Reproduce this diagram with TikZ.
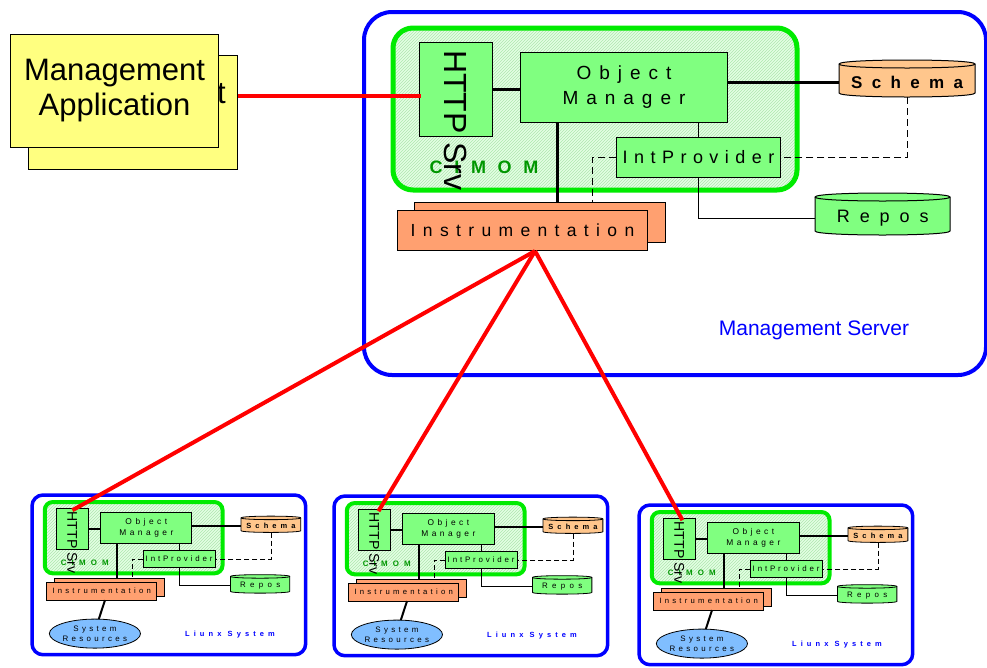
\documentclass[tikz,border=0pt]{standalone}
\usepackage{fontspec}
\setmainfont{Liberation Sans}
\newfontfamily\lsA[LetterSpace=42]{Liberation Sans}
\newfontfamily\lsB[LetterSpace=55]{Liberation Sans}
\newfontfamily\lsC[LetterSpace=65]{Liberation Sans}
\newfontfamily\lsD[LetterSpace=36]{Liberation Sans}
\usetikzlibrary{patterns,calc,shapes.geometric}

\definecolor{appyellow}{RGB}{255,255,128}
\definecolor{boxgreen}{RGB}{128,255,128}
\definecolor{schemaorange}{RGB}{255,198,140}
\definecolor{instrorange}{RGB}{255,160,112}
\definecolor{resblue}{RGB}{128,190,255}
\definecolor{cimomgreen}{RGB}{0,235,0}
\definecolor{cimomtext}{RGB}{0,150,0}
\definecolor{hatchbg}{RGB}{228,255,228}
\definecolor{hatchline}{RGB}{175,230,175}

\tikzset{
  thinline/.style={line width=1pt},
  thickline/.style={line width=3pt},
  blueline/.style={draw=blue, line width=4pt, rounded corners=28pt},
  greenline/.style={draw=cimomgreen, line width=5pt, rounded corners=20pt},
  dashline/.style={thinline, dash pattern=on 7pt off 4pt},
  redline/.style={draw=red, line width=4pt},
  gbox/.style={draw=black, thinline, fill=boxgreen, anchor=north west, inner sep=0pt},
  obox/.style={draw=black, thinline, fill=instrorange, anchor=north west, inner sep=0pt},
  appbox/.style={draw=black, line width=1pt, fill=appyellow, anchor=north west, inner sep=0pt, align=center, font=\fontsize{31}{35}\selectfont},
  mslabel/.style={text=blue, font=\fontsize{21}{24}\selectfont},
  lslabel/.style={text=blue, font=\lsB\bfseries\fontsize{17}{20}\selectfont},
  smallsys/.style={scale=0.44, transform shape,
    thinline/.style={line width=0.8pt},
    thickline/.style={line width=2pt},
    blueline/.style={draw=blue, line width=3.5pt, rounded corners=11pt},
    greenline/.style={draw=cimomgreen, line width=4pt, rounded corners=8pt},
    dashline/.style={thinline, dash pattern=on 5pt off 3pt}}
}

% cylinder: x1 y1 x2 y2 e colour name text
\newcommand{\cyl}[8]{%
  \filldraw[thinline, fill=#6] (#1,{#2+#5}) -- (#1,{#4-#5})
    .. controls (#1,{#4+#5/3}) and (#3,{#4+#5/3}) .. (#3,{#4-#5})
    -- (#3,{#2+#5})
    .. controls (#3,{#2-#5/3}) and (#1,{#2-#5/3}) .. (#1,{#2+#5}) -- cycle;
  \draw[thinline] (#1,{#2+#5}) .. controls (#1,{#2+#5*7/3}) and (#3,{#2+#5*7/3}) .. (#3,{#2+#5});
  \node[inner sep=0pt, minimum width={(#3-#1)*1pt}, minimum height={(#4-#2-2*#5)*1pt}, anchor=north west] (#7) at (#1,{#2+2*#5}) {#8};
}

% server contents in local coordinates; #1 prefix, #2 label, #3 label style
\newcommand{\serverparts}[3]{%
  \draw[blueline] (0,0) rectangle (622,363);
  \draw[greenline, preaction={fill=hatchbg}, pattern=north east lines, pattern color=hatchline] (29,16) rectangle (433,178);
  \node[text=cimomtext, font=\lsC\bfseries\fontsize{18}{20}\selectfont] (#1cimom) at (120,155) {CIMOM};
  \node[obox, minimum width=251pt, minimum height=40pt] (#1instrb) at (50,190) {};
  \node[obox, minimum width=250pt, minimum height=40pt, font=\lsA\fontsize{17.5}{20}\selectfont] (#1instr) at (33,198) {Instrumentation};
  \node[gbox, minimum width=73pt, minimum height=94pt] (#1http) at (55,30) {};
  \node[gbox, minimum width=207pt, minimum height=70pt, align=center, font=\lsA\fontsize{19}{25}\selectfont] (#1om) at (156,40) {Object\\Manager};
  \node[gbox, minimum width=164pt, minimum height=40pt, font=\lsD\fontsize{18}{22}\selectfont] (#1ip) at (252,125) {IntProvider};
  \cyl{475}{48}{611}{85}{4}{schemaorange}{#1schema}{\lsB\bfseries\fontsize{17}{20}\selectfont Schema}
  \cyl{451}{181}{586}{223}{4}{boxgreen}{#1repos}{\lsB\fontsize{18}{20}\selectfont Repos}
  \draw[thickline] (#1http.east) -- (#1http.east -| #1om.west);
  \draw[thickline] (#1om.east |- #1schema.west) -- (#1schema.west);
  \draw[thinline] (#1om.south -| #1ip.north) -- (#1ip.north);
  \coordinate (#1omb) at ($(#1om.south west)!0.18!(#1om.south east)$);
  \draw[thickline] (#1omb) -- (#1omb |- #1instrb.north);
  \draw[dashline] (#1schema.south) |- (#1ip.east);
  \draw[dashline] (#1ip.west) -| (#1instrb.north -| 228,0);
  \draw[thinline] (#1ip.south) |- (#1repos.west);
  \node[rotate=-90, anchor=west, inner sep=0pt, font=\fontsize{32}{34}\selectfont] (#1httptext) at (91.5,38) {HTTP Srv};
  \node[#3] (#1label) at (450,318) {#2};
}

\newcommand{\sysres}[1]{%
  \node[ellipse, draw=black, thinline, fill=resblue, minimum width=192pt, minimum height=66pt, inner sep=0pt, align=center, font=\lsA\fontsize{18}{22}\selectfont] (#1res) at (143,315) {System\\Resources};
  \draw[thickline] ($(#1instr.south west)!0.53!(#1instr.south east)$) -- (#1res.75);
}

\begin{document}
\begin{tikzpicture}[x=1pt, y=-1pt]
\useasboundingbox (0,0) rectangle (987,667);

% management application (a second copy lies behind; only its "t" shows)
\node[appbox, minimum width=209pt, minimum height=114pt] (appb) at (28,55) {};
\node[anchor=base east, inner sep=0pt, font=\fontsize{31}{35}\selectfont] (appbt) at (226,103) {t};
\node[appbox, minimum width=208pt, minimum height=113pt] (appf) at (10,34) {Management\\Application};

% management server
\begin{scope}[shift={(364,12)}]
  \serverparts{m}{Management Server}{mslabel}
\end{scope}

% three Linux systems
\begin{scope}[shift={(32,495)}, smallsys]
  \serverparts{a}{Liunx System}{lslabel}
  \sysres{a}
\end{scope}
\begin{scope}[shift={(334,496)}, smallsys]
  \serverparts{b}{Liunx System}{lslabel}
  \sysres{b}
\end{scope}
\begin{scope}[shift={(639,505)}, smallsys]
  \serverparts{c}{Liunx System}{lslabel}
  \sysres{c}
\end{scope}

% red connections
\draw[redline] ([yshift=-6pt]mhttp.west -| appb.east) -- ([yshift=-6pt,xshift=2pt]mhttp.west);
\coordinate (mred) at ($(minstr.south west)!0.55!(minstr.south east)$);
\draw[redline] (mred) -- ([yshift=-2pt]ahttp.north);
\draw[redline] (mred) -- ([yshift=-2pt,xshift=4pt]bhttp.north);
\draw[redline] (mred) -- ([yshift=-2pt,xshift=3pt]chttp.north);
\end{tikzpicture}
\end{document}
